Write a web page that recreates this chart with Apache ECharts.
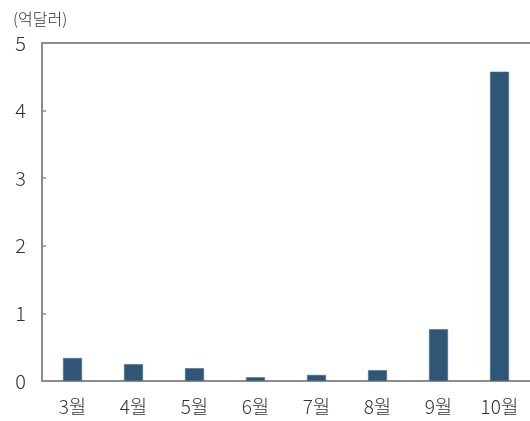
<!DOCTYPE html>
<html>
<head>
<meta charset="utf-8">
<script src="https://cdn.jsdelivr.net/npm/echarts@6/dist/echarts.min.js"></script>
<style>
  html, body { margin: 0; padding: 0; background: #fff; }
  #main { width: 530px; height: 421px; }
</style>
</head>
<body>
<div id="main"></div>
<script>
var months = ['3월', '4월', '5월', '6월', '7월', '8월', '9월', '10월'];
var values = [0.34, 0.25, 0.19, 0.055, 0.09, 0.16, 0.765, 4.575];
var unitLabel = '(억달러)';

var myChart = echarts.init(document.getElementById('main'));
var font = 'Noto Sans CJK KR';
var axisGray = '#8c8c8c';

var option = {
    animation: false,
    textStyle: { fontFamily: font },
    title: {
        text: unitLabel,
        left: 8,
        top: 6,
        textStyle: { fontSize: 16, fontWeight: 300, color: '#333', fontFamily: font }
    },
    grid: { left: 42, right: 0, top: 43, bottom: 40, containLabel: false },
    xAxis: [{
        type: 'category',
        data: months,
        axisLine: { lineStyle: { color: axisGray, width: 2 } },
        axisTick: { inside: true, length: 4, lineStyle: { color: axisGray, width: 1.5 } },
        axisLabel: { fontSize: 19, fontWeight: 300, color: '#333', margin: 16, fontFamily: font }
    }, {
        type: 'category',
        position: 'top',
        data: months,
        axisLine: { lineStyle: { color: axisGray, width: 2 } },
        axisTick: { show: false },
        axisLabel: { show: false }
    }],
    yAxis: {
        type: 'value',
        min: 0,
        max: 5,
        interval: 1,
        axisLine: { show: true, lineStyle: { color: axisGray, width: 2 } },
        axisTick: { show: true, inside: true, length: 4, lineStyle: { color: axisGray, width: 1.5 } },
        splitLine: { show: false },
        axisLabel: { fontSize: 20, fontWeight: 300, color: '#333', margin: 16, fontFamily: font }
    },
    series: [{
        type: 'bar',
        data: values,
        barWidth: 19,
        itemStyle: { color: '#2f5577', borderColor: '#4a6d8f', borderWidth: 0.6 }
    }]
};
myChart.setOption(option);
</script>
</body>
</html>
